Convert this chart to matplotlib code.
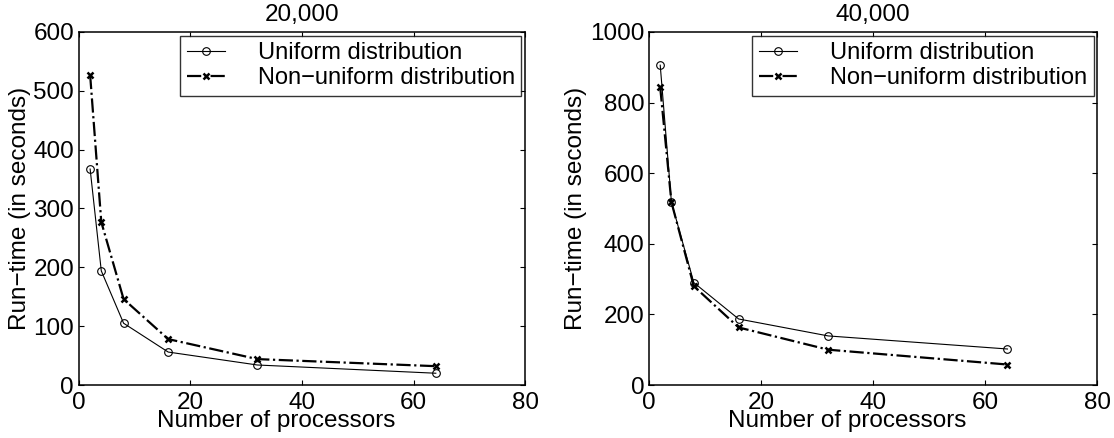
import matplotlib
matplotlib.use("Agg")
import matplotlib.pyplot as plt

plt.rcParams['font.family'] = ['Liberation Sans', 'DejaVu Sans']

procs = [2, 4, 8, 16, 32, 64]
titles = ["20,000", "40,000"]
uniform_20k = [367, 194, 105, 56, 34, 20]
nonuniform_20k = [527, 277, 146, 78, 44, 32]
uniform_40k = [906, 518, 290, 187, 139, 102]
nonuniform_40k = [843, 518, 280, 163, 100, 58]
ylims = [600, 1000]
yticks = [[0, 100, 200, 300, 400, 500, 600], [0, 200, 400, 600, 800, 1000]]
xticks = [0, 20, 40, 60, 80]

FS = 17.5
fig = plt.figure(figsize=(11.14, 4.38), dpi=100)
axes = [fig.add_axes([0.0709, 0.121, 0.4004, 0.806]),
        fig.add_axes([0.5826, 0.121, 0.4022, 0.806])]
data = [(uniform_20k, nonuniform_20k), (uniform_40k, nonuniform_40k)]

for i, ax in enumerate(axes):
    u, n = data[i]
    ax.plot(procs, u, '-', color='black', lw=0.8, marker='o', ms=5.5,
            mfc='none', mew=0.8, label='Uniform distribution')
    ax.plot(procs, n, '-.', color='black', lw=1.6, marker='x', ms=4,
            mew=1.8, label='Non\u2212uniform distribution')
    ax.set_xlim(0, 80)
    ax.set_ylim(0, ylims[i])
    ax.set_xticks(xticks)
    ax.set_yticks(yticks[i])
    ax.tick_params(direction='in', top=True, right=True, labelsize=FS,
                   length=3.6, width=0.8)
    ax.tick_params(axis='y', pad=3.5)
    ax.tick_params(axis='x', pad=5)
    for s in ax.spines.values():
        s.set_linewidth(1.1)
    ax.set_title(titles[i], fontsize=FS, pad=8)
    ax.set_xlabel('Number of processors', fontsize=FS, labelpad=-4)
    ax.xaxis.set_label_coords(0.443, -0.07, transform=ax.transAxes)
    ax.xaxis.label.set_va('top')
    ax.set_ylabel('Run\u2212time (in seconds)', fontsize=FS, labelpad=2)
    leg = ax.legend(loc='upper right', fontsize=17, frameon=True,
                    fancybox=False, borderaxespad=0.15, handlelength=1.6,
                    borderpad=0.28, labelspacing=0.12, handletextpad=1.4)
    leg.get_frame().set_edgecolor('black')
    leg.get_frame().set_linewidth(1.0)

fig.savefig('out.png', dpi=100)
